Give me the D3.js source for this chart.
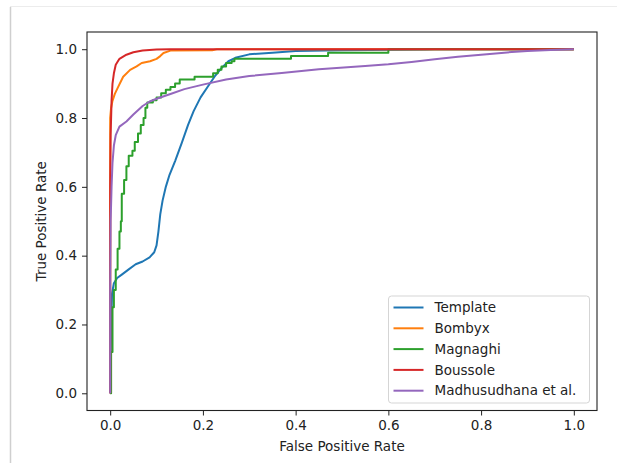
<!DOCTYPE html>
<html>
<head>
<meta charset="utf-8">
<script src="https://cdn.jsdelivr.net/npm/d3@7"></script>
<style>
    body { margin: 0; background: #fff; }
    svg { display: block; font-family: "DejaVu Sans", sans-serif; }
</style>
</head>
<body>
<svg id="chart" width="617" height="463"></svg>
<script>
// ROC points, [fpr, tpr]
const template = [[0,0],[0.002,0.18],[0.004,0.29],[0.008,0.32],[0.015,0.335],[0.025,0.345],[0.04,0.36],[0.055,0.375],[0.07,0.383],[0.085,0.395],[0.095,0.41],[0.1,0.43],[0.104,0.47],[0.108,0.52],[0.113,0.56],[0.12,0.6],[0.128,0.635],[0.14,0.675],[0.155,0.73],[0.168,0.78],[0.18,0.82],[0.195,0.86],[0.21,0.89],[0.225,0.92],[0.24,0.945],[0.255,0.965],[0.27,0.975],[0.3,0.985],[0.35,0.99],[0.4,0.995],[0.5,0.997],[0.68,0.999],[0.7,1.0],[1,1]];
const bombyx = [[0,0],[0,0.8],[0.002,0.83],[0.005,0.85],[0.01,0.87],[0.017,0.89],[0.028,0.92],[0.043,0.94],[0.057,0.95],[0.068,0.96],[0.086,0.965],[0.1,0.972],[0.108,0.98],[0.115,0.989],[0.13,0.996],[0.22,0.997],[0.23,1.0],[1,1]];
const magnaghi = [[0,0],[0.002,0.12],[0.005,0.25],[0.008,0.3],[0.012,0.36],[0.016,0.42],[0.02,0.47],[0.023,0.5],[0.025,0.58],[0.03,0.62],[0.035,0.66],[0.04,0.69],[0.048,0.705],[0.053,0.73],[0.06,0.755],[0.066,0.78],[0.072,0.8],[0.076,0.83],[0.08,0.845],[0.092,0.852],[0.1,0.86],[0.11,0.872],[0.12,0.882],[0.13,0.89],[0.14,0.9],[0.15,0.912],[0.182,0.92],[0.222,0.93],[0.232,0.94],[0.24,0.95],[0.25,0.96],[0.262,0.965],[0.268,0.972],[0.39,0.98],[0.47,0.99],[0.6,1.0],[1,1]];
const boussole = [[0,0],[0,0.6],[0.001,0.75],[0.003,0.85],[0.005,0.9],[0.008,0.93],[0.012,0.955],[0.02,0.972],[0.035,0.984],[0.05,0.991],[0.07,0.996],[0.1,0.999],[0.13,1],[1,1]];
const madhusudhana = [[0,0],[0,0.3],[0.001,0.5],[0.003,0.6],[0.005,0.67],[0.008,0.72],[0.012,0.75],[0.02,0.775],[0.035,0.79],[0.05,0.81],[0.07,0.835],[0.085,0.848],[0.1,0.856],[0.13,0.87],[0.16,0.884],[0.2,0.897],[0.25,0.912],[0.3,0.922],[0.37,0.931],[0.45,0.942],[0.55,0.951],[0.6,0.956],[0.65,0.963],[0.7,0.971],[0.75,0.978],[0.8,0.984],[0.85,0.99],[0.9,0.995],[0.95,0.998],[1,1]];

const names = ["Template", "Bombyx", "Magnaghi", "Boussole", "Madhusudhana et al."];
const colors = ["#1f77b4", "#ff7f0e", "#2ca02c", "#d62728", "#9467bd"];
const xTicks = [0, 0.2, 0.4, 0.6, 0.8, 1.0];
const yTicks = [0, 0.2, 0.4, 0.6, 0.8, 1.0];

const series = [template, bombyx, magnaghi, boussole, madhusudhana];
const stepped = [false, false, true, false, false];

const svg = d3.select("#chart");
const plotLeft = 87, plotRight = 597, plotTop = 32, plotBottom = 410.5;

// card edge of the screenshot
svg.append("line").attr("x1", 10.5).attr("y1", 7).attr("x2", 10.5).attr("y2", 463)
    .attr("stroke", "#cfcfcf").attr("stroke-width", 1.5);
svg.append("line").attr("x1", 10).attr("y1", 6.5).attr("x2", 617).attr("y2", 6.5)
    .attr("stroke", "#ececec").attr("stroke-width", 1);

const x = d3.scaleLinear().domain([-0.05, 1.05]).range([plotLeft, plotRight]);
const y = d3.scaleLinear().domain([-0.05, 1.05]).range([plotBottom, plotTop]);

// axes
const xAxis = svg.append("g")
    .attr("transform", `translate(0,${plotBottom})`)
    .call(d3.axisBottom(x).tickValues(xTicks).tickFormat(d3.format(".1f")).tickSize(5).tickPadding(5));
const yAxis = svg.append("g")
    .attr("transform", `translate(${plotLeft},0)`)
    .call(d3.axisLeft(y).tickValues(yTicks).tickFormat(d3.format(".1f")).tickSize(5).tickPadding(5));

[xAxis, yAxis].forEach(g => {
    g.select(".domain").remove();
    g.selectAll("text").attr("font-size", 13.5).attr("fill", "#222")
        .attr("font-family", "DejaVu Sans, sans-serif");
    g.selectAll("line").attr("stroke", "#222");
});

// curves
series.forEach((pts, i) => {
    const line = d3.line()
        .x(d => x(d[0])).y(d => y(d[1]))
        .curve(stepped[i] ? d3.curveStepAfter : d3.curveLinear);
    svg.append("path")
        .datum(pts)
        .attr("d", line)
        .attr("fill", "none")
        .attr("stroke", colors[i])
        .attr("stroke-width", 2)
        .attr("stroke-linejoin", "round");
});

// frame
svg.append("rect")
    .attr("x", plotLeft).attr("y", plotTop)
    .attr("width", plotRight - plotLeft).attr("height", plotBottom - plotTop)
    .attr("fill", "none").attr("stroke", "#222").attr("stroke-width", 1.1);

// axis labels
svg.append("text")
    .attr("x", (plotLeft + plotRight) / 2).attr("y", 451)
    .attr("text-anchor", "middle").attr("font-size", 13.5).attr("fill", "#222")
    .text("False Positive Rate");
svg.append("text")
    .attr("transform", `translate(46,${(plotTop + plotBottom) / 2}) rotate(-90)`)
    .attr("text-anchor", "middle").attr("font-size", 13.5).attr("fill", "#222")
    .text("True Positive Rate");

// legend
const legend = svg.append("g");
legend.append("rect")
    .attr("x", 388.5).attr("y", 296).attr("width", 201).attr("height", 107)
    .attr("rx", 3).attr("fill", "#fff").attr("fill-opacity", 0.8)
    .attr("stroke", "#d5d5d5").attr("stroke-width", 1);

names.forEach((name, i) => {
    const ry = 307.5 + i * 20.8;
    legend.append("line")
        .attr("x1", 393.5).attr("x2", 423.5).attr("y1", ry).attr("y2", ry)
        .attr("stroke", colors[i]).attr("stroke-width", 2);
    legend.append("text")
        .attr("x", 434.5).attr("y", ry).attr("dy", "0.35em")
        .attr("font-size", 13.5).attr("fill", "#222")
        .text(name);
});
</script>
</body>
</html>
